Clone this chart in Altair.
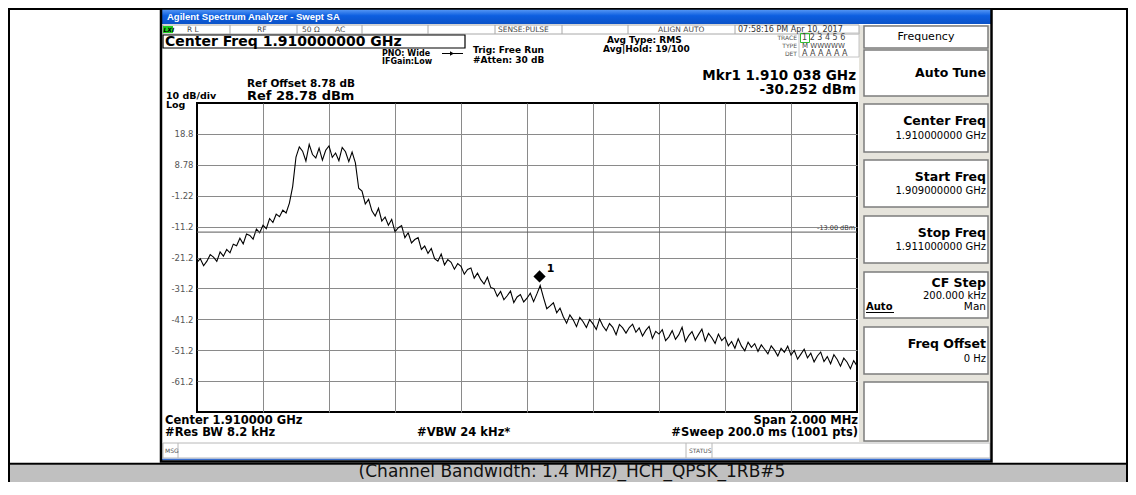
import altair as alt
import pandas as pd

# ---------------- data ----------------
trace_khz = list(range(-1000, 1001, 10))
trace_dbm = [
    -22.8, -21.6, -23.9, -22.4, -20.3, -21.1, -22.5, -19.4, -20.8, -18.6,
    -19.7, -16.9, -17.4, -15.0, -16.8, -13.6, -14.1, -15.3, -12.0, -13.2,
    -10.8, -11.9, -8.6, -9.9, -7.2, -8.0, -5.9, -6.8, -3.6, 1.8,
    11.3, 14.6, 13.2, 10.0, 15.4, 12.1, 11.0, 14.2, 10.3, 13.5,
    14.9, 11.2, 12.6, 10.1, 14.4, 13.0, 9.8, 12.9, 9.4, 1.2,
    0.3, -3.9, -2.4, -6.1, -7.8, -5.3, -9.4, -8.1, -10.8, -8.9,
    -12.9, -11.6, -10.9, -14.8, -13.2, -16.5, -15.4, -14.8, -18.6, -17.5,
    -19.9, -18.3, -21.6, -22.4, -20.1, -23.6, -21.9, -22.8, -25.0, -23.2,
    -24.1, -26.6, -25.1, -24.6, -27.9, -26.3, -28.4, -29.8, -27.6, -30.9,
    -31.3, -33.8, -32.2, -34.9, -33.6, -32.1, -35.8, -34.0, -33.2, -35.6,
    -34.4, -32.8, -35.5, -33.0, -30.3, -34.2, -37.8, -36.9, -35.9, -39.1,
    -37.6, -40.4, -42.5, -39.8, -41.4, -43.6, -40.6, -42.0, -43.9, -41.3,
    -42.7, -44.5, -41.1, -43.4, -44.9, -42.6, -43.8, -46.2, -42.9, -44.0,
    -45.7, -43.9, -42.8, -45.4, -44.0, -46.6, -44.8, -43.5, -47.4, -45.1,
    -46.0, -44.6, -48.1, -46.9, -44.9, -47.7, -46.2, -43.8, -48.4, -46.5,
    -45.2, -47.9, -46.1, -44.4, -48.3, -45.8, -47.2, -49.0, -46.0, -48.1,
    -47.0, -49.8, -48.4, -50.6, -47.5, -49.9, -51.4, -48.6, -50.3, -49.1,
    -51.6, -49.5, -50.9, -52.4, -49.8, -51.2, -53.1, -50.6, -51.9, -49.9,
    -52.8, -51.3, -54.1, -52.5, -50.9, -53.7, -52.2, -55.0, -53.1, -51.8,
    -54.9, -53.3, -55.6, -52.7, -54.2, -56.4, -53.8, -55.1, -57.2, -54.6,
    -56.3,
]
y_tick_values = [18.78, 8.78, -1.22, -11.22, -21.22, -31.22, -41.22, -51.22, -61.22]
x_grid_khz = [-800, -600, -400, -200, 0, 200, 400, 600, 800]
ref_level = 28.78
div_db = 10
marker_khz = [38]
marker_dbm = [-30.252]
display_line_dbm = [-13.0]

F = "DejaVu Sans"
LS = "Liberation Sans"
GRID = "#8a8a8a"

# plot origin in page coordinates (8px page margin + padding)
OX, OY = 197, 103
PLOT_W, PLOT_H = 660, 309

one = pd.DataFrame({"k": [0]})


def rect(x1, y1, x2, y2, fill=None, stroke=None, sw=1.0):
    kw = {}
    if fill is None:
        kw["fill"] = "white"
        kw["fillOpacity"] = 0
    else:
        kw["fill"] = fill
    if stroke is not None:
        kw["stroke"] = stroke
        kw["strokeWidth"] = sw
    return alt.Chart(one).mark_rect(**kw).encode(
        x=alt.value(x1 - OX), x2=alt.value(x2 - OX),
        y=alt.value(y1 - OY), y2=alt.value(y2 - OY))


def line(x1, y1, x2, y2, color="black", sw=1.0):
    return alt.Chart(one).mark_rule(color=color, strokeWidth=sw).encode(
        x=alt.value(x1 - OX), x2=alt.value(x2 - OX),
        y=alt.value(y1 - OY), y2=alt.value(y2 - OY))


def text(s, x, y, size, weight="bold", align="left", color="black",
         font=F, baseline="middle", style="normal"):
    return alt.Chart(one).mark_text(
        text=s, fontSize=size, fontWeight=weight, align=align,
        baseline=baseline, color=color, font=font, fontStyle=style
    ).encode(x=alt.value(x - OX), y=alt.value(y - OY))


layers = []

# outer table frame and caption row
layers.append(rect(9, 9, 1127, 482, stroke="black", sw=2))
layers.append(rect(10, 464.5, 1126, 482, fill="#c0c0c0"))
layers.append(line(9, 463.8, 1127, 463.8, "black", 2))

# analyzer window
title_grad = alt.Gradient(
    gradient="linear", x1=0, x2=0, y1=0, y2=1,
    stops=[alt.GradientStop(color="#5d9df7", offset=0),
           alt.GradientStop(color="#0d5fe0", offset=0.45),
           alt.GradientStop(color="#0b52c8", offset=1)])
layers.append(rect(162, 9, 991, 24, fill=title_grad))
layers.append(rect(859, 25, 990, 442, fill="#e6e4dc"))

# status row
layers.append(rect(163, 25, 859, 34, stroke="#a8a8a8", sw=1))
for sx in [230, 297, 362, 428, 495, 562, 628, 735]:
    layers.append(line(sx, 25, sx, 34, "#a8a8a8", 1))
layers.append(rect(163, 26, 173, 33, fill="#1fd01f"))

# center freq box
layers.append(rect(163, 35, 465, 48, stroke="black", sw=1.2))

# trace info box
layers.append(rect(799, 33, 859, 57, stroke="#c4c4c4", sw=1))
layers.append(rect(800.5, 33.5, 809.5, 42.5, stroke="#33bb33", sw=1))

# softkeys
keys = [(26, 48), (50, 96), (104, 152), (160, 207), (216, 263),
        (272, 318), (327, 374), (382, 441)]
for (k1, k2) in keys:
    layers.append(rect(864, k1, 988, k2, fill="white", stroke="#7c7c7c", sw=1.5))

# msg row
layers.append(rect(163, 443, 990, 458, stroke="#b8b8b8", sw=1))
for sx in [178, 686, 712]:
    layers.append(line(sx, 443, sx, 458, "#b8b8b8", 1))
layers.append(line(162, 459.5, 991, 459.5, "#3a6fd0", 1.5))

# window border
layers.append(rect(161, 8.5, 991.5, 461.5, stroke="black", sw=2.5))

# ---------------- plot ----------------
xs = alt.Scale(domain=[-1000, 1000], nice=False, zero=False)
ys = alt.Scale(domain=[ref_level - 10 * div_db, ref_level], nice=False, zero=False)
xaxis = alt.Axis(values=x_grid_khz, labels=False, ticks=False, domain=False,
                 grid=True, gridColor=GRID, gridWidth=1, title=None)
yaxis = alt.Axis(values=y_tick_values, ticks=False, domain=False, grid=True,
                 gridColor=GRID, gridWidth=1, title=None,
                 labelExpr="replace(format(datum.value, '.3g'), '\u2212', '-')",
                 labelFont=F, labelFontSize=8.5, labelColor="#555",
                 labelPadding=4)
X = alt.X("khz:Q", scale=xs, axis=xaxis)
Y = alt.Y("dbm:Q", scale=ys, axis=yaxis)

trace_df = pd.DataFrame({"khz": trace_khz, "dbm": trace_dbm})
layers.append(alt.Chart(trace_df).mark_line(color="black", strokeWidth=1.1, clip=True)
              .encode(x=X, y=Y))

disp_df = pd.DataFrame({"dbm": display_line_dbm})
layers.append(alt.Chart(disp_df).mark_rule(color="#5a5a5a", strokeWidth=1).encode(y=Y))

mk_df = pd.DataFrame({"khz": marker_khz, "dbm": marker_dbm})
layers.append(alt.Chart(mk_df).mark_point(
    shape="diamond", filled=True, size=150, color="black", opacity=1, yOffset=-9
).encode(x=X, y=Y))
layers.append(alt.Chart(mk_df).mark_text(
    text="1", dx=11, dy=-16, fontSize=11, fontWeight="bold", font=F, color="black"
).encode(x=X, y=Y))

# ---------------- texts ----------------
T = []
T.append(text("Agilent Spectrum Analyzer - Swept SA", 167, 17, 9.5, color="white", font=LS))
T.append(text("LXI", 163.5, 29.7, 6, style="italic"))
st_c = "#4a4a4a"
T.append(text("R L", 187, 29.7, 7.5, "normal", color=st_c))
T.append(text("RF", 257, 29.7, 7.5, "normal", color=st_c))
T.append(text("50 Ω", 302, 29.7, 7.5, "normal", color=st_c))
T.append(text("AC", 335, 29.7, 7.5, "normal", color=st_c))
T.append(text("SENSE:PULSE", 498, 29.7, 7.5, "normal", color=st_c))
T.append(text("ALIGN AUTO", 658, 29.7, 7.5, "normal", color=st_c))
T.append(text("07:58:16 PM Apr 10, 2017", 738, 29.7, 8, "normal", color="#333"))

T.append(text("Center Freq 1.910000000 GHz", 165, 41.8, 14))
T.append(text("PNO: Wide", 382, 53.5, 8))
T.append(line(442, 53.5, 463, 53.5, "black", 1))
T.append(alt.Chart(one).mark_point(shape="triangle-right", filled=True, size=22,
                                   color="black", opacity=1).encode(
    x=alt.value(452 - OX), y=alt.value(53.5 - OY)))
T.append(text("IFGain:Low", 382, 61.5, 8))
T.append(text("Trig: Free Run", 473, 50, 9))
T.append(text("#Atten: 30 dB", 473, 60, 9))
T.append(text("Avg Type: RMS", 607, 40, 9))
T.append(text("Avg|Hold: 19/100", 603, 48.5, 9))

T.append(text("TRACE", 797, 38, 6, "normal", "right", "#555"))
T.append(text("TYPE", 797, 46, 6, "normal", "right", "#555"))
T.append(text("DET", 797, 53.5, 6, "normal", "right", "#555"))
T.append(text("1 2 3 4 5 6", 802, 38, 8, "normal", color="#444"))
T.append(text("M WWWWW", 802, 46, 7, "normal", color="#444"))
T.append(text("A A A A A A", 802, 53.5, 8, "normal", color="#444"))

T.append(text("Mkr1 1.910 038 GHz", 856, 76, 13.5, align="right"))
T.append(text("-30.252 dBm", 856, 90, 13.5, align="right"))
T.append(text("Ref Offset 8.78 dB", 247, 84, 10.5))
T.append(text("Ref 28.78 dBm", 247, 95.5, 13))
T.append(text("10 dB/div", 166, 95.5, 9.5))
T.append(text("Log", 166, 104.5, 9.5))
T.append(text("-13.00 dBm", 855, 228, 6.5, "normal", "right", "#333"))

T.append(text("Center 1.910000 GHz", 165, 421, 11.5))
T.append(text("#Res BW 8.2 kHz", 165, 433, 11.5))
T.append(text("#VBW 24 kHz*", 417, 433, 11.5))
T.append(text("Span 2.000 MHz", 858, 421, 11.5, align="right"))
T.append(text("#Sweep  200.0 ms (1001 pts)", 858, 433, 11.5, align="right"))
T.append(text("MSG", 165, 450.5, 6, "normal", color="#555"))
T.append(text("STATUS", 689, 450.5, 6, "normal", color="#555"))

# softkey labels
T.append(text("Frequency", 926, 37, 11, "normal", "center"))
T.append(text("Auto Tune", 986, 72.5, 12.5, align="right"))
T.append(text("Center Freq", 986, 121, 12.5, align="right"))
T.append(text("1.910000000 GHz", 986, 136, 10, "normal", "right"))
T.append(text("Start Freq", 986, 177, 12.5, align="right"))
T.append(text("1.909000000 GHz", 986, 191, 10, "normal", "right"))
T.append(text("Stop Freq", 986, 233, 12.5, align="right"))
T.append(text("1.911000000 GHz", 986, 247, 10, "normal", "right"))
T.append(text("CF Step", 986, 283, 12.5, align="right"))
T.append(text("200.000 kHz", 986, 295.5, 10, "normal", "right"))
T.append(text("Auto", 866, 307, 10))
T.append(line(866, 312.5, 894, 312.5, "black", 1))
T.append(text("Man", 986, 307, 10.5, "normal", "right"))
T.append(text("Freq Offset", 986, 344, 12.5, align="right"))
T.append(text("0 Hz", 986, 359, 10, "normal", "right"))

# caption
T.append(text("(Channel Bandwidth: 1.4 MHz)_HCH_QPSK_1RB#5", 572, 477, 17, "normal",
              "center", "#111", baseline="alphabetic"))

layers.extend(T)

chart = alt.layer(*layers).properties(
    width=PLOT_W, height=PLOT_H,
    autosize=alt.AutoSizeParams(type="none"),
    padding={"left": OX - 8, "top": OY - 8, "right": 1120 - (OX - 8) - PLOT_W,
             "bottom": 474 - (OY - 8) - PLOT_H},
    background="white",
).configure_view(stroke="black", strokeWidth=2)

chart.save("out.html", embed_options={"renderer": "svg", "actions": False})
